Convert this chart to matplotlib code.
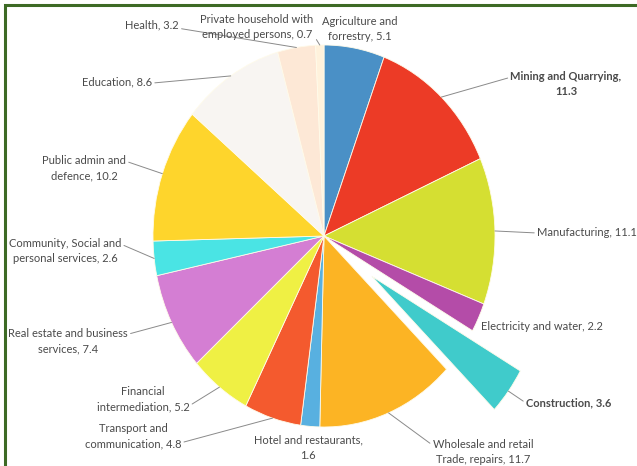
import matplotlib
matplotlib.use("Agg")
from matplotlib import pyplot as plt
from matplotlib.patches import Rectangle
import numpy as np

plt.rcParams['font.family'] = ['Lato', 'DejaVu Sans']

# share of each sector, clockwise from 12 o'clock
sectors = ['Agriculture and\nforrestry', 'Mining and Quarrying', 'Manufacturing',
           'Electricity and water', 'Construction', 'Wholesale and retail\nTrade, repairs',
           'Hotel and restaurants', 'Transport and\ncommunication', 'Financial\nintermediation',
           'Real estate and business\nservices', 'Community, Social and\npersonal services',
           'Public admin and\ndefence', 'Education', 'Health',
           'Private household with\nemployed persons']
shares = [5.1, 11.3, 11.1, 2.2, 3.6, 11.7, 1.6, 4.8, 5.2, 7.4, 2.6, 10.2, 8.6, 3.2, 0.7]
value_on_new_line = ['Mining and Quarrying', 'Hotel and restaurants']
bold_sectors = ['Mining and Quarrying', 'Construction']
pulled_out = 'Construction'

colors = ['#4a90c6', '#ec3b26', '#d5df32', '#b44ca8', '#40cbcb', '#fcb424',
          '#58b0e0', '#f45a2e', '#eff044', '#d47ed3', '#4ae4e4', '#fed52c',
          '#f8f5f2', '#fde8d6', '#fff2dc']

W, H = 637, 466
cx, cy, rx, ry = 324, 236, 171, 191

# label placement in pixels from top-left: (x, y, ha, relpos of leader line or None)
label_layout = [
    (360, 29, 'center', None),
    (566, 84, 'center', (0, 0.75)),
    (537, 233, 'left', (0, 0.5)),
    (481, 326, 'left', None),
    (526, 403, 'left', (0, 0.5)),
    (483, 452, 'center', (0, 0.75)),
    (308, 448, 'center', None),
    (133, 436, 'center', (1, 0.25)),
    (143, 399, 'center', (1, 0.25)),
    (68, 341, 'center', (1, 0.75)),
    (65, 251, 'center', (1, 0.75)),
    (84, 168, 'center', (1, 0.75)),
    (117, 82, 'center', (1, 0.4)),
    (152, 25, 'center', (1, 0.2)),
    (257, 27, 'center', (1, 0.2)),
]

fig = plt.figure(figsize=(W / 100, H / 100), dpi=100)
ax = fig.add_axes([0, 0, 1, 1])

explode = [0.35 if s == pulled_out else 0 for s in sectors]
wedges, _ = ax.pie(shares, colors=colors, startangle=90, counterclock=False,
                   explode=explode, radius=1,
                   wedgeprops=dict(edgecolor='#fffbea', linewidth=0.6))

ax.set_aspect('auto')
ax.set_xlim(-cx / rx, (W - cx) / rx)
ax.set_ylim(-(H - cy) / ry, cy / ry)
ax.axis('off')

for w, name, val, (px, py, ha, rel) in zip(wedges, sectors, shares, label_layout):
    sep = ',\n' if name in value_on_new_line else ', '
    text = f"{name}{sep}{val}"
    mid = np.deg2rad((w.theta1 + w.theta2) / 2)
    edge = (w.center[0] + w.r * np.cos(mid), w.center[1] + w.r * np.sin(mid))
    weight = 'bold' if name in bold_sectors else 'normal'
    kw = dict(textcoords='figure pixels', xytext=(px, H - py), ha=ha, va='center',
              multialignment='center', fontsize=8, color='#4a4a4a', fontweight=weight,
              linespacing=1.55)
    if rel is None:
        ax.annotate(text, xy=edge, **kw)
    else:
        ax.annotate(text, xy=edge,
                    arrowprops=dict(arrowstyle='-', color='#8a8a8a', lw=0.7,
                                    relpos=rel, shrinkA=0, shrinkB=0),
                    **kw)

# dark green frame, cut off on the right and at the bottom
fig.patches.append(Rectangle((5 / W, -0.2), 1.5, 1.2 - 5 / H, transform=fig.transFigure,
                             fill=False, edgecolor='#3d6a25', linewidth=2.2))

fig.savefig('out.png', dpi=100)
